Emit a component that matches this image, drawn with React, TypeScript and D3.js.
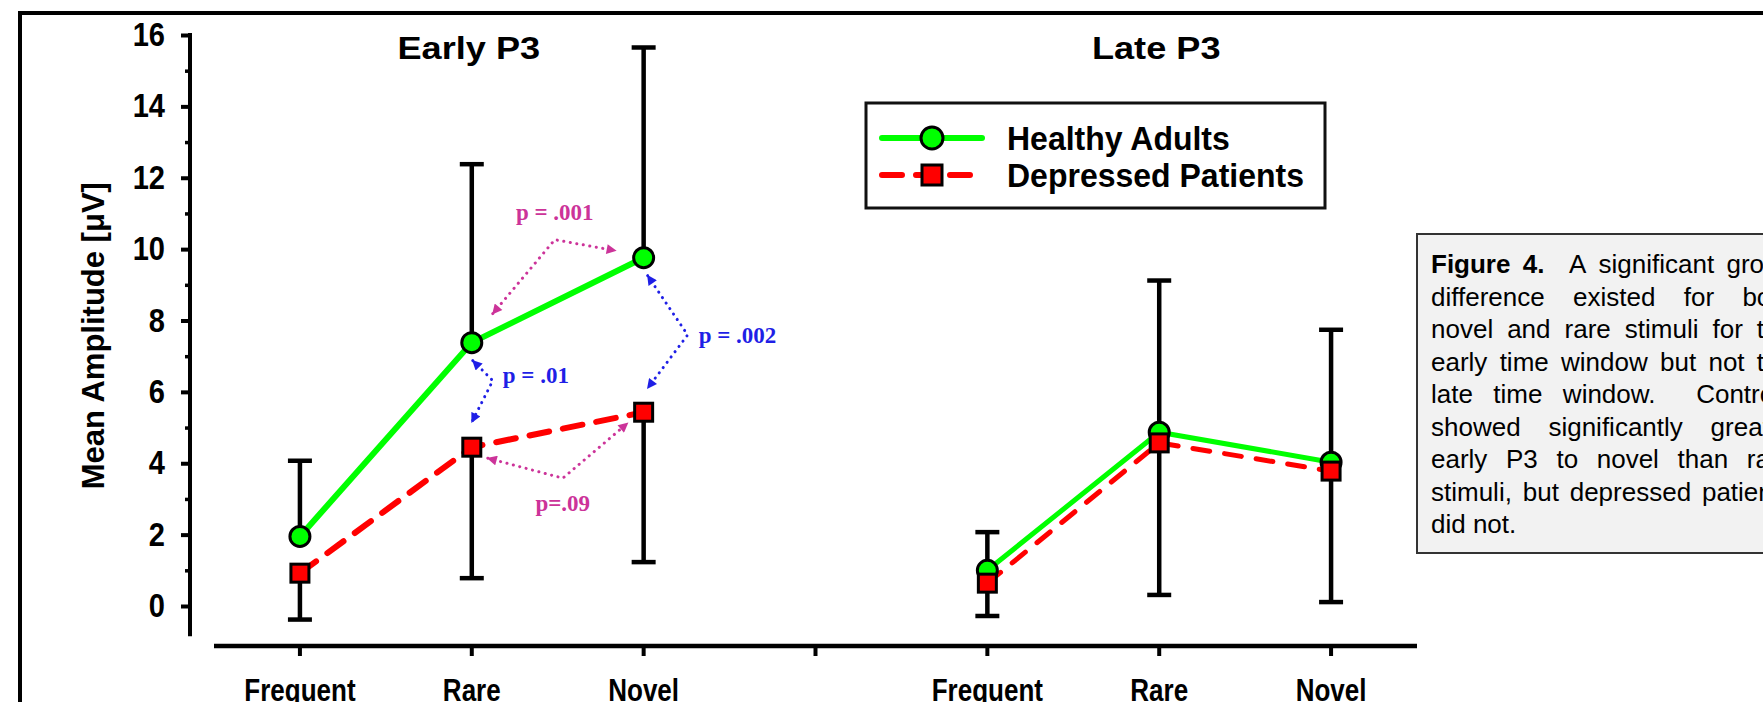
import React from 'react';
import * as d3 from 'd3';

// Slots along the x axis: three conditions per time window, with an empty slot between the windows
const timeWindows = ['Early P3', 'Late P3'];
const conditions = ['Frequent', 'Rare', 'Novel'];
const slots = ['Early P3|Frequent', 'Early P3|Rare', 'Early P3|Novel', 'gap', 'Late P3|Frequent', 'Late P3|Rare', 'Late P3|Novel'];

// Mean amplitude (µV)
const healthyEarly = [1.95, 7.38, 9.76];
const healthyLate = [1.0, 4.87, 4.03];
const depressedEarly = [0.92, 4.45, 5.43];
const depressedLate = [0.64, 4.57, 3.78];
// Error bar ends: healthy bars point up, depressed bars point down
const healthyEarlyUpper = [4.07, 12.38, 15.65];
const healthyLateUpper = [2.07, 9.12, 7.74];
const depressedEarlyLower = [-0.38, 0.78, 1.23];
const depressedLateLower = [-0.28, 0.31, 0.11];

const yMajorTicks = [0, 2, 4, 6, 8, 10, 12, 14, 16];
const yMinorTicks = [1, 3, 5, 7, 9, 11, 13, 15];
const groupNames = ['Healthy Adults', 'Depressed Patients'];
const pValueLabels = ['p = .001', 'p = .002', 'p = .01', 'p=.09'];

const captionLines = [
  'Figure 4.  A significant group',
  'difference existed for both',
  'novel and rare stimuli for the',
  'early time window but not the',
  'late time window.  Controls',
  'showed significantly greater',
  'early P3 to novel than rare',
  'stimuli, but depressed patients',
  'did not.',
];
const captionBoldWords = ['Figure', '4.'];

function App() {
  const svgRef = React.useRef<SVGSVGElement>(null);
  const width = 1763;
  const height = 702;

  React.useEffect(() => {
    const sans = '"Liberation Sans", Arial, Helvetica, sans-serif';
    const serif = '"Liberation Serif", "Times New Roman", serif';
    const green = '#00ff00';
    const red = '#ff0000';
    const magenta = '#cc3399';
    const blue = '#1f1fe6';

    const svg = d3.select(svgRef.current);
    svg.selectAll('*').remove();

    const x = d3.scaleBand().domain(slots).range([214, 1417]);
    const cx = (k: string) => (x(k) as number) + x.bandwidth() / 2;
    const y = d3.scaleLinear().domain([0, 16]).range([606, 35]);
    const xAxisY = 646;

    // arrow heads for the p-value brackets
    const defs = svg.append('defs');
    [['arrow-mag', magenta], ['arrow-blue', blue]].forEach(([id, c]) => {
      defs.append('marker')
        .attr('id', id)
        .attr('viewBox', '0 0 10 10')
        .attr('refX', 9).attr('refY', 5)
        .attr('markerWidth', 11).attr('markerHeight', 10)
        .attr('markerUnits', 'userSpaceOnUse')
        .attr('orient', 'auto-start-reverse')
        .append('path').attr('d', 'M0,0 L10,5 L0,10 Z').attr('fill', c);
    });

    svg.append('rect').attr('width', width).attr('height', height).attr('fill', '#fff');

    // outer frame (runs past the right and bottom edges)
    svg.append('rect')
      .attr('x', 20).attr('y', 13).attr('width', 1820).attr('height', 760)
      .attr('fill', 'none').attr('stroke', '#000').attr('stroke-width', 4);

    // Y axis
    const yAxisG = svg.append('g').attr('transform', 'translate(190,0)');
    yAxisG.append('line')
      .attr('y1', y(16) - 2).attr('y2', y(-0.85))
      .attr('stroke', '#000').attr('stroke-width', 4);
    const yAxisMajor = yAxisG.append('g')
      .call(d3.axisLeft(y).tickValues(yMajorTicks).tickSize(9).tickPadding(16).tickFormat(d3.format('d')));
    yAxisMajor.select('.domain').remove();
    yAxisMajor.selectAll('line').attr('stroke', '#000').attr('stroke-width', 4);
    yAxisMajor.attr('font-family', sans).attr('font-size', 33).attr('font-weight', 'bold');
    // narrow the digits a little, keeping their right edge in place
    yAxisMajor.selectAll('text').attr('fill', '#000')
      .attr('transform', 'translate(-25,0) scale(0.88,1) translate(25,0)');
    const yAxisMinor = yAxisG.append('g')
      .call(d3.axisLeft(y).tickValues(yMinorTicks).tickSize(5).tickFormat(() => ''));
    yAxisMinor.select('.domain').remove();
    yAxisMinor.selectAll('line').attr('stroke', '#000').attr('stroke-width', 3.5);

    svg.append('text')
      .attr('transform', `translate(104,${(y(16) + y(-0.85)) / 2}) rotate(-90)`)
      .attr('text-anchor', 'middle')
      .attr('font-family', sans).attr('font-size', 31).attr('font-weight', 'bold')
      .text('Mean Amplitude [\u03bcV]');

    // X axis
    const xAxisG = svg.append('g').attr('transform', `translate(0,${xAxisY})`);
    xAxisG.append('line')
      .attr('x1', x.range()[0]).attr('x2', x.range()[1])
      .attr('stroke', '#000').attr('stroke-width', 4.5);
    const xAxisTicks = xAxisG.append('g')
      .call(d3.axisBottom(x).tickSize(10).tickPadding(23).tickFormat((k) => (k === 'gap' ? '' : k.split('|')[1])));
    xAxisTicks.select('.domain').remove();
    xAxisTicks.selectAll('line').attr('stroke', '#000').attr('stroke-width', 4);
    xAxisTicks.attr('font-family', sans).attr('font-size', 31).attr('font-weight', 'bold');
    xAxisTicks.selectAll('text').attr('fill', '#000').attr('transform', 'scale(0.84,1)');

    // panel titles
    timeWindows.forEach((w) => {
      svg.append('text')
        .attr('transform', `translate(${cx(`${w}|Rare`) - 3},59) scale(1.13,1)`)
        .attr('text-anchor', 'middle')
        .attr('font-family', sans).attr('font-size', 32).attr('font-weight', 'bold')
        .text(w);
    });

    const series = [
      { name: groupNames[0], values: [healthyEarly, healthyLate], ends: [healthyEarlyUpper, healthyLateUpper] },
      { name: groupNames[1], values: [depressedEarly, depressedLate], ends: [depressedEarlyLower, depressedLateLower] },
    ];
    const pts = (wi: number, vals: number[]) =>
      conditions.map((c, i) => [cx(`${timeWindows[wi]}|${c}`), y(vals[i])] as [number, number]);

    // error bars
    const bars = svg.append('g').attr('stroke', '#000').attr('stroke-width', 4.5);
    series.forEach((s) => {
      timeWindows.forEach((w, wi) => {
        conditions.forEach((c, i) => {
          const px = cx(`${w}|${c}`);
          const y0 = y(s.values[wi][i]);
          const y1 = y(s.ends[wi][i]);
          bars.append('line').attr('x1', px).attr('x2', px).attr('y1', y0).attr('y2', y1);
          bars.append('line').attr('x1', px - 12).attr('x2', px + 12).attr('y1', y1).attr('y2', y1);
        });
      });
    });

    // lines
    const line = d3.line();
    timeWindows.forEach((w, wi) => {
      const lw = wi === 0 ? 6 : 5;
      svg.append('path')
        .attr('d', line(pts(wi, series[0].values[wi])))
        .attr('fill', 'none').attr('stroke', green).attr('stroke-width', lw)
        .attr('stroke-linecap', 'round');
      svg.append('path')
        .attr('d', line(pts(wi, series[1].values[wi])))
        .attr('fill', 'none').attr('stroke', red).attr('stroke-width', lw)
        .attr('stroke-linecap', 'round')
        .attr('stroke-dasharray', wi === 0 ? '20 14' : '17 15');
    });

    // markers: circles for healthy, squares for depressed on top
    timeWindows.forEach((w, wi) => {
      pts(wi, series[0].values[wi]).forEach(([px, py]) => {
        svg.append('circle').attr('cx', px).attr('cy', py).attr('r', 10)
          .attr('fill', green).attr('stroke', '#000').attr('stroke-width', 3);
      });
    });
    timeWindows.forEach((w, wi) => {
      pts(wi, series[1].values[wi]).forEach(([px, py]) => {
        svg.append('rect').attr('x', px - 9).attr('y', py - 9).attr('width', 18).attr('height', 18)
          .attr('fill', red).attr('stroke', '#000').attr('stroke-width', 3);
      });
    });

    // p-value brackets (early window)
    const [, hR, hN] = pts(0, healthyEarly);
    const [, dR, dN] = pts(0, depressedEarly);
    const bracket = (points: [number, number][], color: string, marker: string) => {
      svg.append('path')
        .attr('d', d3.line()(points))
        .attr('fill', 'none').attr('stroke', color).attr('stroke-width', 3)
        .attr('stroke-linecap', 'round').attr('stroke-dasharray', '0.1 6.5')
        .attr('marker-start', `url(#${marker})`).attr('marker-end', `url(#${marker})`);
    };
    const pLabel = (label: string, px: number, py: number, color: string, anchor: string) => {
      svg.append('text').attr('x', px).attr('y', py).attr('text-anchor', anchor)
        .attr('font-family', serif).attr('font-size', 23).attr('font-weight', 'bold')
        .attr('fill', color).text(label);
    };
    const midHN = (hN[1] + dN[1]) / 2;
    bracket([[hR[0] + 21, hR[1] - 29], [hR[0] + 83, hN[1] - 18], [hN[0] - 28, hN[1] - 7]], magenta, 'arrow-mag');
    pLabel(pValueLabels[0], hR[0] + 83, hN[1] - 38, magenta, 'middle');
    bracket([[hN[0] + 4, hN[1] + 18], [hN[0] + 44, midHN], [dN[0] + 4, dN[1] - 24]], blue, 'arrow-blue');
    pLabel(pValueLabels[1], hN[0] + 55, midHN + 8, blue, 'start');
    bracket([[hR[0] + 1, hR[1] + 18], [hR[0] + 21, hR[1] + 38], [dR[0], dR[1] - 25]], blue, 'arrow-blue');
    pLabel(pValueLabels[2], hR[0] + 31, hR[1] + 40, blue, 'start');
    bracket([[dR[0] + 16, dR[1] + 11], [dR[0] + 91, dR[1] + 31], [dN[0] - 16, dN[1] + 11]], magenta, 'arrow-mag');
    pLabel(pValueLabels[3], dR[0] + 91, dR[1] + 64, magenta, 'middle');

    // legend
    const lg = svg.append('g');
    lg.append('rect').attr('x', 866).attr('y', 103).attr('width', 459).attr('height', 105)
      .attr('fill', '#fff').attr('stroke', '#111').attr('stroke-width', 3);
    const rowY = [138, 175];
    lg.append('line').attr('x1', 882).attr('x2', 982).attr('y1', rowY[0]).attr('y2', rowY[0])
      .attr('stroke', green).attr('stroke-width', 6).attr('stroke-linecap', 'round');
    lg.append('circle').attr('cx', 932).attr('cy', rowY[0]).attr('r', 11)
      .attr('fill', green).attr('stroke', '#000').attr('stroke-width', 3);
    lg.append('line').attr('x1', 882).attr('x2', 970).attr('y1', rowY[1]).attr('y2', rowY[1])
      .attr('stroke', red).attr('stroke-width', 6).attr('stroke-linecap', 'round')
      .attr('stroke-dasharray', '20 14');
    lg.append('rect').attr('x', 922).attr('y', rowY[1] - 10).attr('width', 20).attr('height', 20)
      .attr('fill', red).attr('stroke', '#000').attr('stroke-width', 3);
    groupNames.forEach((n, i) => {
      lg.append('text').attr('transform', `translate(1007,${rowY[i] + 12}) scale(1,1.06)`)
        .attr('font-family', sans).attr('font-size', 32).attr('font-weight', 'bold')
        .text(n);
    });

    // caption box, justified text (runs past the right edge like the original)
    const capX = 1431;
    const capW = 362;
    const capSize = 26;
    svg.append('rect').attr('x', 1417).attr('y', 234).attr('width', 392).attr('height', 319)
      .attr('fill', '#f2f2f2').attr('stroke', '#333').attr('stroke-width', 2);
    const ctx = document.createElement('canvas').getContext('2d') as CanvasRenderingContext2D;
    const measure = (t: string, bold: boolean) => {
      ctx.font = `${bold ? 'bold ' : ''}${capSize}px "Liberation Sans"`;
      return ctx.measureText(t).width;
    };
    const spaceW = measure(' ', false);
    captionLines.forEach((ln, li) => {
      const words = ln.split(/ +/);
      const gaps = (ln.match(/ +/g) || []).map((s) => s.length);
      const bold = words.map((wd) => li === 0 && captionBoldWords.includes(wd));
      const widths = words.map((wd, i) => measure(wd, bold[i]));
      const nSpaces = d3.sum(gaps);
      const natural = d3.sum(widths) + nSpaces * spaceW;
      const isLast = li === captionLines.length - 1;
      const perSpace = spaceW + (isLast ? 0 : (capW - natural) / nSpaces);
      const t = svg.append('text').attr('y', 273 + li * 32.5)
        .attr('font-family', sans).attr('font-size', capSize).attr('fill', '#000');
      let cur = capX;
      words.forEach((wd, i) => {
        t.append('tspan').attr('x', cur).attr('font-weight', bold[i] ? 'bold' : 'normal').text(wd);
        cur += widths[i] + (gaps[i] || 0) * perSpace;
      });
    });
  }, []);

  return (
    <svg
      ref={svgRef}
      width={width}
      height={height}
      style={{ position: 'absolute', left: 0, top: 0, display: 'block' }}
    />
  );
}

export default App;
